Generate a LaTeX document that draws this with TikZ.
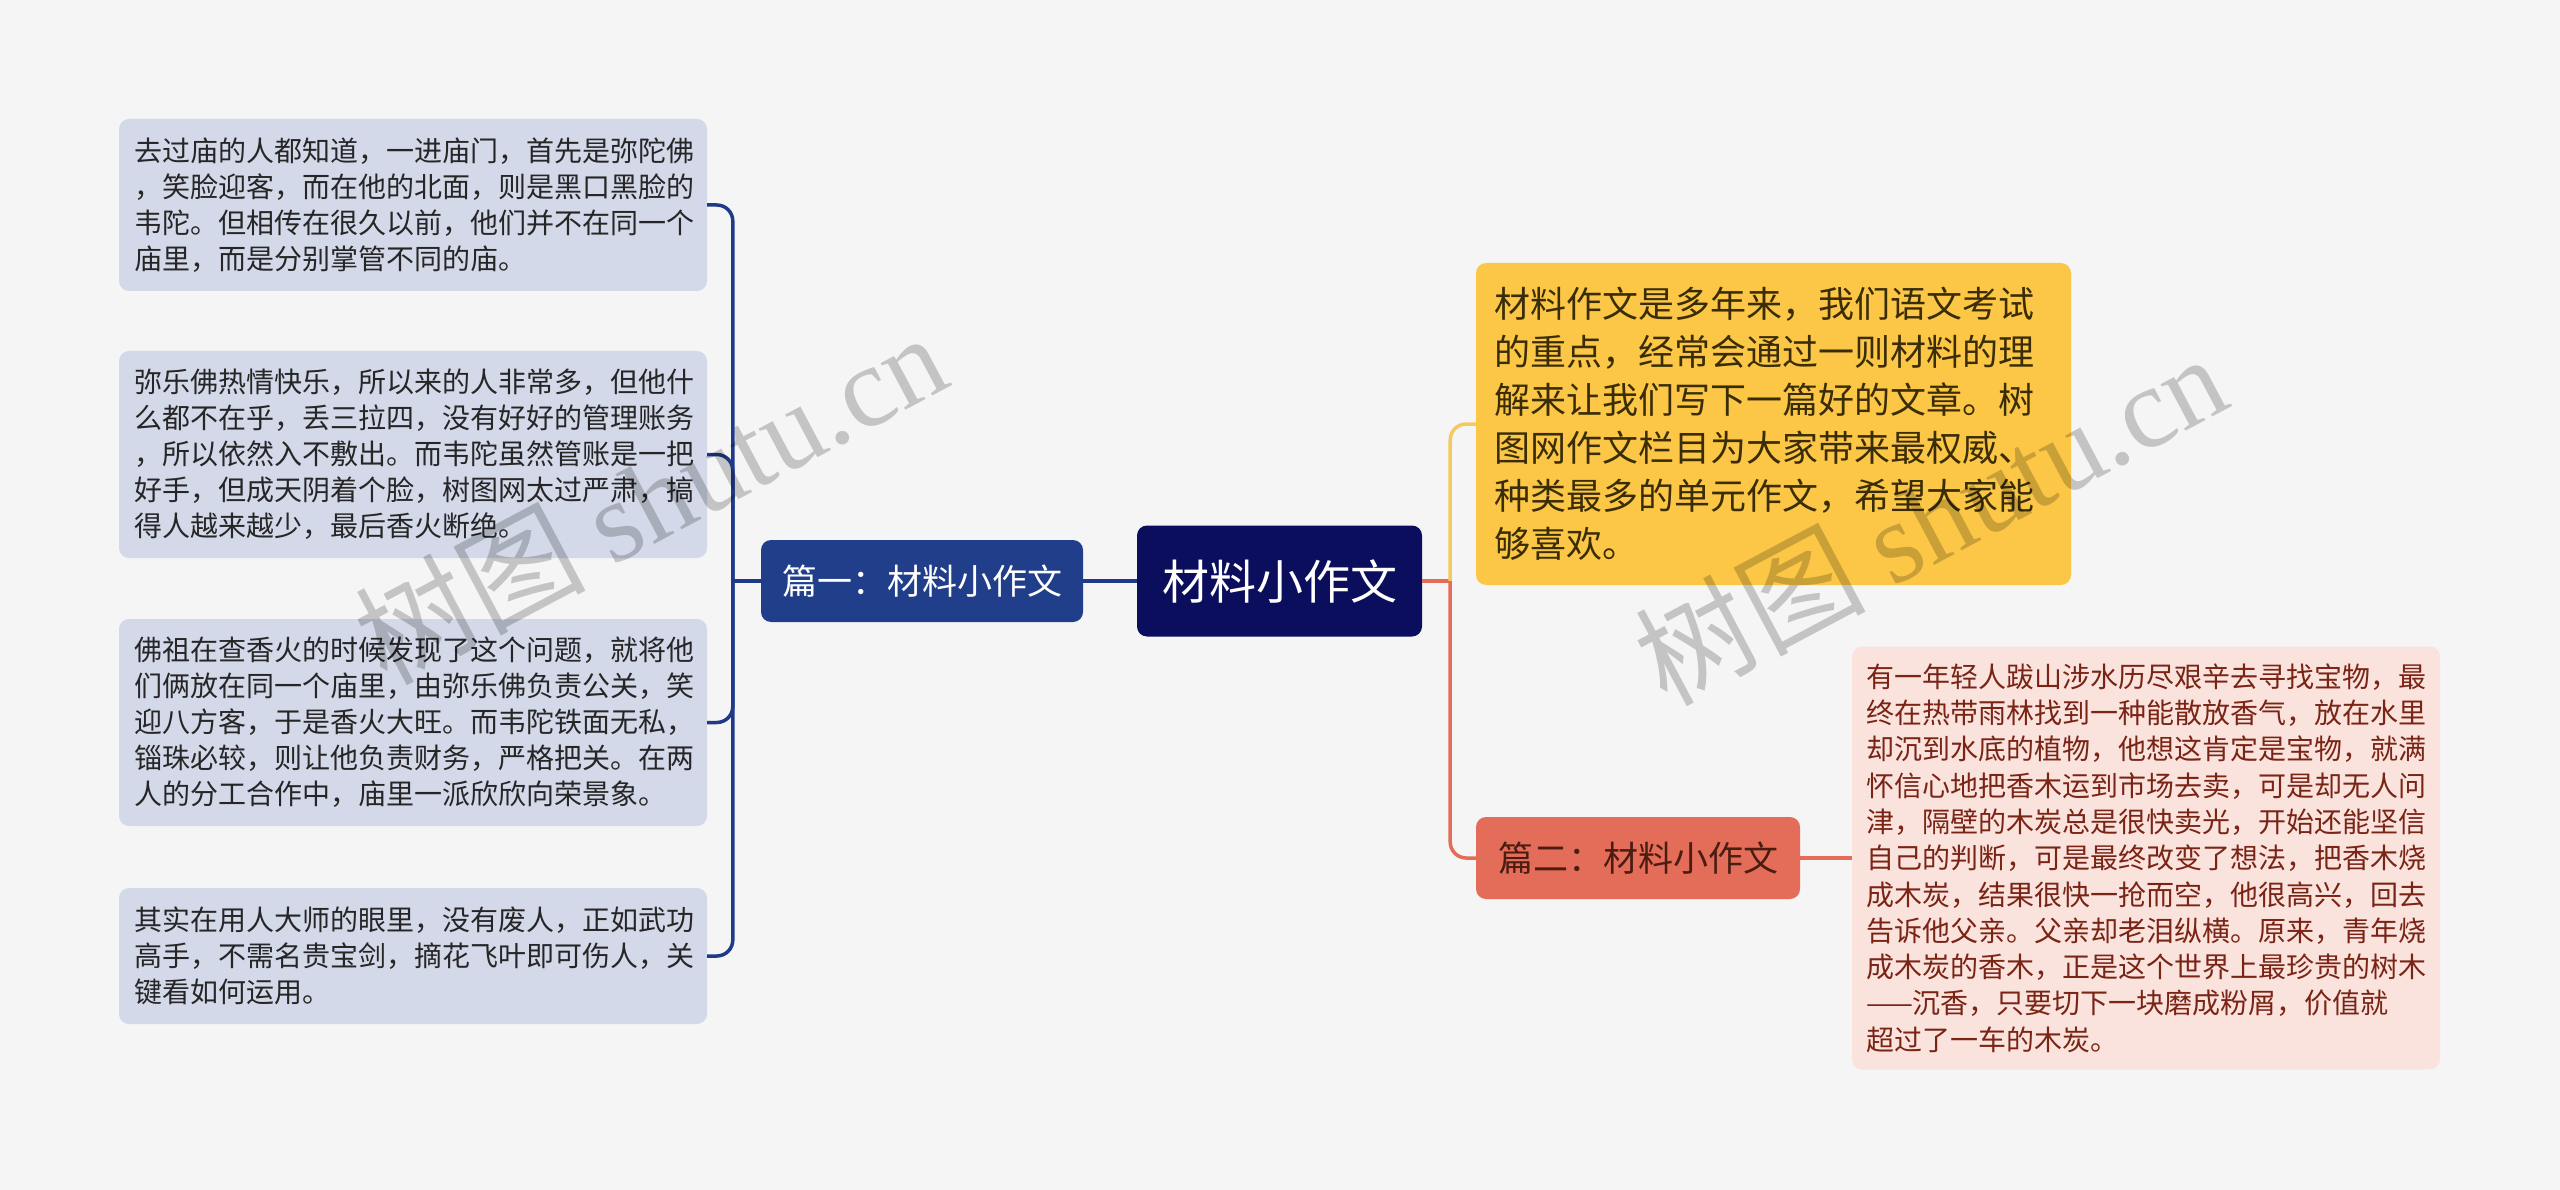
\documentclass[tikz,border=0pt]{standalone}
\usepackage{fontspec}
\setmainfont{Noto Sans CJK SC}
\newfontfamily\wmfont{Liberation Serif}
\usetikzlibrary{calc}

\definecolor{bgcol}{HTML}{F5F5F5}
\definecolor{rootcol}{HTML}{0A0E5C}
\definecolor{bluecol}{HTML}{213E8A}
\definecolor{blueline}{HTML}{1F3A88}
\definecolor{bluelight}{HTML}{D3D9E9}
\definecolor{yellowcol}{HTML}{FCC746}
\definecolor{yellowline}{HTML}{F6C95C}
\definecolor{yellowtext}{HTML}{3A2D05}
\definecolor{orangecol}{HTML}{E36D58}
\definecolor{orangetext}{HTML}{4A1C12}
\definecolor{pinkcol}{HTML}{FAE3DD}
\definecolor{pinktext}{HTML}{7A2416}

\begin{document}
\begin{tikzpicture}[x=1pt,y=-1pt,
    leaf/.style={fill=bluelight,rounded corners=10,text=black!85,align=left,
      inner xsep=15,inner ysep=0,text width=558,font=\fontsize{28}{36}\selectfont},
    branch/.style={rounded corners=10,inner sep=0,minimum height=82,font=\fontsize{35}{42}\selectfont},
    link/.style={line width=3.5},
    watermark/.style={text=black,opacity=.2,font=\fontsize{115}{130}\selectfont,rotate=28}]
    \fill[bgcol] (0,0) rectangle (2560,1190);
    \useasboundingbox (0,0) rectangle (2560,1190);
    % centre
    \node[fill=rootcol,text=white,rounded corners=10,minimum width=285,minimum height=111,
      font=\fontsize{47}{56}\selectfont] (root) at (1279.5,581) {材料小作文};
    % left branch
    \node[branch,fill=bluecol,text=white,minimum width=322] (b1) at (922,581) {篇一：材料小作文};
    \node[leaf,minimum height=172] (l1) at (413,205) {去过庙的人都知道，一进庙门，首先是弥陀佛\\
      ，笑脸迎客，而在他的北面，则是黑口黑脸的\\
      韦陀。但相传在很久以前，他们并不在同一个\\
      庙里，而是分别掌管不同的庙。};
    \node[leaf,minimum height=207] (l2) at (413,454.5) {弥乐佛热情快乐，所以来的人非常多，但他什\\
      么都不在乎，丢三拉四，没有好好的管理账务\\
      ，所以依然入不敷出。而韦陀虽然管账是一把\\
      好手，但成天阴着个脸，树图网太过严肃，搞\\
      得人越来越少，最后香火断绝。};
    \node[leaf,minimum height=207] (l3) at (413,722.5) {佛祖在查香火的时候发现了这个问题，就将他\\
      们俩放在同一个庙里，由弥乐佛负责公关，笑\\
      迎八方客，于是香火大旺。而韦陀铁面无私，\\
      锱珠必较，则让他负责财务，严格把关。在两\\
      人的分工合作中，庙里一派欣欣向荣景象。};
    \node[leaf,minimum height=136] (l4) at (413,956) {其实在用人大师的眼里，没有废人，正如武功\\
      高手，不需名贵宝剑，摘花飞叶即可伤人，关\\
      键看如何运用。};
    % right branch
    \node[fill=yellowcol,text=yellowtext,rounded corners=10,align=left,inner xsep=18,inner ysep=0,
      text width=559,minimum height=322,font=\fontsize{36}{48}\selectfont] (y1) at (1773.5,424)
      {材料作文是多年来，我们语文考试\\
      的重点，经常会通过一则材料的理\\
      解来让我们写下一篇好的文章。树\\
      图网作文栏目为大家带来最权威、\\
      种类最多的单元作文，希望大家能\\
      够喜欢。};
    \node[branch,fill=orangecol,text=orangetext,minimum width=324] (b2) at (1638,858) {篇二：材料小作文};
    \node[fill=pinkcol,text=pinktext,rounded corners=10,align=left,inner xsep=14,inner ysep=0,
      text width=560,minimum height=423,font=\fontsize{28}{36.3}\selectfont] (p1) at (2146,858)
      {有一年轻人跋山涉水历尽艰辛去寻找宝物，最\\
      终在热带雨林找到一种能散放香气，放在水里\\
      却沉到水底的植物，他想这肯定是宝物，就满\\
      怀信心地把香木运到市场去卖，可是却无人问\\
      津，隔壁的木炭总是很快卖光，开始还能坚信\\
      自己的判断，可是最终改变了想法，把香木烧\\
      成木炭，结果很快一抢而空，他很高兴，回去\\
      告诉他父亲。父亲却老泪纵横。原来，青年烧\\
      成木炭的香木，正是这个世界上最珍贵的树木\\
      ——沉香，只要切下一块磨成粉屑，价值就\\
      超过了一车的木炭。};
    % links
    \coordinate (jl) at ($(b1.west)+(-28,0)$);
    \coordinate (jr) at ($(root.east)+(28,0)$);
    \draw[link,blueline] (root.west) -- (b1.east);
    \draw[link,blueline] (b1.west) -- (jl);
    \foreach \n in {l1,l2,l3,l4}
        \draw[link,blueline,rounded corners=16] (jl) |- (\n.east);
    \draw[link,orangecol] (root.east) -- (jr);
    \draw[link,yellowline,rounded corners=16] (jr) |- (y1.west);
    \draw[link,orangecol,rounded corners=16] (jr) |- (b2.west);
    \draw[link,orangecol] (b2.east) -- (p1.west);
    % watermarks
    \node[watermark] (wm1) at (650,497) {树图 {\wmfont shutu.cn}};
    \node[watermark] (wm2) at (1930,518) {树图 {\wmfont shutu.cn}};
\end{tikzpicture}
\end{document}
